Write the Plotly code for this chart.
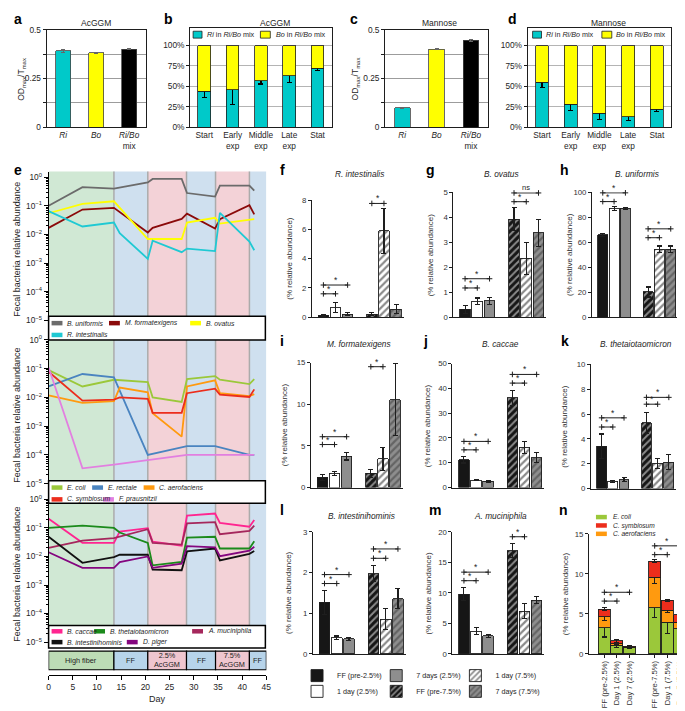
import plotly.graph_objects as go

W, H = 685, 711
FONT = 'Liberation Sans, Arial, Helvetica, sans-serif'
INK = '#1e1e1e'

# ---------------- a-d: Ri / Bo growth on AcGGM and mannose
strains = ['<i>Ri</i>', '<i>Bo</i>', '<i>Ri/Bo</i><br>mix']
strain_colors = ['#00c9c9', '#ffff00', '#000000']
acggm_od = [0.392, 0.381, 0.401]
acggm_od_err = [0.008, 0.004, 0.003]
mannose_od = [0.100, 0.401, 0.445]
mannose_od_err = [0.002, 0.004, 0.006]

phases = ['Start', 'Early<br>exp', 'Middle<br>exp', 'Late<br>exp', 'Stat']
acggm_ri = [44, 46, 57, 63, 72]
acggm_ri_err = [8, 18, 4, 8, 3]
acggm_bo = [56, 54, 43, 37, 28]
mannose_ri = [55, 28, 17, 13, 22]
mannose_ri_err = [6, 8, 8, 5, 3]
mannose_bo = [45, 72, 83, 87, 78]
pct_ticks = [0, 25, 50, 75, 100]
pct_text = ['0%', '25%', '50%', '75%', '100%']

# ---------------- e: fecal relative abundance over the feeding trial
days = [0, 7, 13.5, 14.7, 20.5, 21.5, 27.5, 28.6, 34.4, 35.4, 41.5, 42.5]
b_uniformis = [0.10, 0.45, 0.40, None, 0.66, 0.87, 0.87, 0.28, 0.21, 0.51, 0.51, 0.34]
m_formatexigens = [0.017, 0.074, 0.085, None, 0.0117, 0.017, 0.035, 0.053, 0.016, 0.034, 0.105, 0.05]
b_ovatus = [0.055, 0.117, 0.144, None, 0.0069, 0.0069, 0.0069, 0.026, 0.038, 0.024, 0.032, 0.034]
r_intestinalis = [0.065, 0.019, 0.026, 0.011, 0.0014, 0.006, 0.0024, 0.0032, 0.0026, 0.057, 0.0056, 0.0028]
e_coli = [0.089, 0.024, 0.041, None, 0.034, 0.010, 0.0069, 0.043, 0.055, 0.041, 0.029, 0.043]
e_rectale = [0.024, 0.065, 0.050, None, 0.0001, None, None, 0.0002, 0.0002, None, 0.0001, 0.0001]
c_aerofaciens = [0.0118, 0.0064, 0.0074, 0.022, 0.015, 0.0028, 0.00043, 0.024, 0.039, 0.014, 0.011, 0.013]
c_symbiosum = [0.078, 0.0077, 0.0083, 0.010, 0.0089, 0.0029, 0.0029, 0.014, 0.020, 0.0124, 0.0103, 0.019]
f_prausnitzii = [0.11, 0.000034, 0.000046, None, None, None, None, 0.0001, 0.0001, None, 0.0001, 0.0001]
b_caccae = [0.21, 0.030, 0.030, 0.075, 0.098, 0.033, 0.024, 0.27, 0.32, 0.15, 0.11, 0.19]
b_theta = [0.10, 0.12, 0.10, 0.069, 0.030, 0.0049, 0.0064, 0.046, 0.049, 0.019, 0.019, 0.034]
a_muciniphila = [0.020, 0.036, 0.044, None, 0.090, 0.030, 0.026, 0.145, 0.16, 0.06, 0.079, 0.12]
b_intestinihominis = [0.049, 0.0060, 0.0095, 0.0115, 0.0115, 0.0035, 0.0033, 0.015, 0.019, 0.0073, 0.0124, 0.0155]
d_piger = [0.014, 0.0040, 0.0040, 0.0063, 0.010, 0.0040, 0.0056, 0.023, 0.021, 0.0102, 0.016, 0.022]

diet_names = ['High fiber', 'FF', '2.5%<br>AcGGM', 'FF', '7.5%<br>AcGGM', 'FF']
diet_start = [0, 13.5, 20.5, 28.5, 34.5, 41.5]
diet_end = [13.5, 20.5, 28.5, 34.5, 41.5, 45]
day_ticks = [0, 5, 10, 15, 20, 25, 30, 35, 40, 45]
decades = [1e-5, 1e-4, 1e-3, 1e-2, 1e-1, 1]
decade_text = ['10<sup>−5</sup>', '10<sup>−4</sup>', '10<sup>−3</sup>',
               '10<sup>−2</sup>', '10<sup>−1</sup>', '10<sup>0</sup>']

# ---------------- f-m: % relative abundance per diet step
fm_groups = ['FF (pre-2.5%)', '1 day (2.5%)', '7 days (2.5%)',
             'FF (pre-7.5%)', '1 day (7.5%)', '7 days (7.5%)']
ri_pct = [0.12, 0.65, 0.22, 0.22, 5.9, 0.56]
ri_pct_err = [0.04, 0.33, 0.10, 0.08, 1.55, 0.30]
bov_pct = [0.31, 0.64, 0.66, 3.92, 2.35, 3.37]
bov_pct_err = [0.15, 0.13, 0.14, 0.46, 0.63, 0.55]
buni_pct = [65.8, 87, 87, 20.2, 54.5, 54.5]
buni_pct_err = [1.0, 1.5, 1.0, 4.0, 2.5, 2.5]
mfor_pct = [1.22, 1.69, 3.74, 1.69, 3.46, 10.55]
mfor_pct_err = [0.40, 0.28, 0.43, 0.48, 1.38, 4.35]
bcac_pct = [11.2, 3.0, 2.6, 36.1, 16.3, 12.0]
bcac_pct_err = [1.3, 0.3, 0.35, 3.2, 2.4, 2.0]
bthe_pct = [3.4, 0.58, 0.72, 5.3, 2.04, 2.12]
bthe_pct_err = [1.0, 0.08, 0.15, 0.85, 0.40, 0.60]
bint_pct = [1.27, 0.40, 0.37, 1.97, 0.85, 1.36]
bint_pct_err = [0.30, 0.04, 0.04, 0.20, 0.26, 0.24]
amuc_pct = [9.8, 3.75, 3.0, 16.9, 7.0, 8.8]
amuc_pct_err = [1.05, 0.55, 0.25, 1.15, 1.2, 0.55]

# significance brackets: (from group, to group, height, label), group index into fm_groups
brackets_f = [(0, 1, 1.6, '*'), (0, 2, 2.2, '*'), (3, 4, 7.77, '*'), (3, 5, 8.37, '*')]
brackets_g = [(0, 1, 1.17, '*'), (0, 2, 1.54, '*'), (3, 4, 4.62, '*'), (3, 5, 4.97, 'ns')]
brackets_h = [(0, 1, 92.5, '*'), (0, 2, 99.5, '*'), (3, 4, 63.6, '*'), (3, 5, 70.7, '*')]
brackets_i = [(0, 1, 5.16, '*'), (0, 2, 6.1, '*'), (3, 4, 14.5, '*'), (3, 5, 15.55, '*')]
brackets_j = [(0, 1, 15.2, '*'), (0, 2, 18.6, '*'), (3, 4, 42.1, '*'), (3, 5, 45.6, '*')]
brackets_k = [(0, 1, 4.96, '*'), (0, 2, 5.7, '*'), (3, 4, 6.8, '*'), (3, 5, 7.35, '*')]
brackets_l = [(0, 1, 1.73, '*'), (0, 2, 1.95, '*'), (3, 4, 2.35, '*'), (3, 5, 2.58, '*')]
brackets_m = [(0, 1, 12.0, '*'), (0, 2, 13.4, '*'), (3, 4, 19.2, '*'), (3, 5, 20.5, '*')]

# ---------------- n: stacked E. coli / C. aerofaciens / C. symbiosum
n_groups = ['FF (pre-2.5%)', 'Day 1 (2.5%)', 'Day 7 (2.5%)',
            'FF (pre-7.5%)', 'Day 1 (7.5%)', 'Day 7 (7.5%)']
n_ecoli = [3.27, 1.10, 0.78, 5.80, 3.96, 3.14]
n_ecoli_err = [1.15, 0.30, 0.15, 1.25, 1.40, 0.50]
n_caero = [1.38, 0.20, 0.04, 3.75, 1.51, 0.82]
n_caero_err = [0.50, 0.15, 0.05, 0.75, 0.35, 0.35]
n_csym = [0.95, 0.33, 0.16, 2.05, 1.23, 0.94]
n_csym_err = [0.15, 0.15, 0.10, 0.20, 0.10, 0.30]
brackets_n = [(0, 1, 6.6, '*'), (0, 2, 7.7, '*'), (3, 4, 12.4, '*'), (3, 5, 13.5, '*')]

# ---------------- styles
sp_color = {
    'B. uniformis': '#6b6b6b', 'M. formatexigens': '#8b0a0a', 'B. ovatus': '#ffff00',
    'R. intestinalis': '#1fc9d3', 'E. coli': '#9bc83a', 'E. rectale': '#4a84c0',
    'C. aerofaciens': '#ff9a0f', 'C. symbiosum': '#ec2d1c', 'F. prausnitzii': '#e27fe0',
    'B. caccae': '#ff2590', 'B. thetaiotaomicron': '#1b8a1b', 'A. muciniphila': '#a5275c',
    'B. intestinihominis': '#111111', 'D. piger': '#84067f',
}
diet_shade = ['#d0e8d4', '#cfe0ef', '#f3d2d7', '#cfe0ef', '#f3d2d7', '#cfe0ef']
diet_fill = ['#bddcb6', '#b7d4ea', '#efc6cf', '#b7d4ea', '#efc6cf', '#b7d4ea']
group_style = [
    dict(color='#161616'),
    dict(color='#ffffff'),
    dict(color='#8e8e8e'),
    dict(color='#161616', pattern=dict(shape='/', bgcolor='#161616', fgcolor='#ffffff', size=5, solidity=0.4)),
    dict(color='#ffffff', pattern=dict(shape='/', bgcolor='#ffffff', fgcolor='#161616', size=5, solidity=0.45)),
    dict(color='#8e8e8e', pattern=dict(shape='/', bgcolor='#8e8e8e', fgcolor='#3a3a3a', size=5, solidity=0.45)),
]
# bottom key: one legend per entry, (legend id, swatch centre x, row y)
group_legend = [('legend', 316, 672), ('legend2', 316, 688), ('legend3', 396, 672),
                ('legend4', 396, 688), ('legend5', 476, 672), ('legend6', 476, 688)]

fig = go.Figure()
lay = {}
notes = []
shapes = []


def fx(p):
    return p / W


def fy(p):
    return 1 - p / H


def make_axes(k, box, xa, ya):
    x0, y0, x1, y1 = box
    s = '' if k == 1 else str(k)
    lay['xaxis' + s] = dict(domain=[fx(x0), fx(x1)], anchor='y' + s, **xa)
    lay['yaxis' + s] = dict(domain=[fy(y1), fy(y0)], anchor='x' + s, **ya)
    return 'x' + s, 'y' + s


def label(x, y, t, size=8.3, angle=0, xanchor='center', color=INK, align='center'):
    notes.append(dict(xref='paper', yref='paper', x=fx(x), y=fy(y), text=t, showarrow=False,
                      xanchor=xanchor, yanchor='middle', textangle=angle, align=align,
                      font=dict(size=size, color=color)))


def letter(x, y, t):
    label(x, y, '<b>%s</b>' % t, size=14, xanchor='left', color='#000')


def line_key(x, y, color):
    shapes.append(dict(type='line', xref='paper', yref='paper', x0=fx(x), x1=fx(x + 11),
                       y0=fy(y), y1=fy(y), line=dict(color=color, width=4.5), layer='above'))


def box_key(x0, y0, x1, y1, color):
    shapes.append(dict(type='rect', xref='paper', yref='paper', x0=fx(x0), x1=fx(x1),
                       y0=fy(y1), y1=fy(y0), fillcolor=color, line=dict(color=INK, width=0.8),
                       layer='above'))


def frame_box(x0, y0, x1, y1):
    shapes.append(dict(type='rect', xref='paper', yref='paper', x0=fx(x0), x1=fx(x1),
                       y0=fy(y1), y1=fy(y0), fillcolor='white', line=dict(color='#000', width=1.5),
                       layer='above'))


# ---------------- a, c
def od_panel(k, box, vals, errs):
    xr, yr = make_axes(k, box,
        dict(type='category', range=[-0.5, 2.5], showline=True, mirror=True, linecolor=INK,
             linewidth=1, ticks='', tickfont=dict(size=8.3)),
        dict(range=[0, 0.5], tickvals=[0, 0.25, 0.5], showline=True, mirror=True, linecolor=INK,
             linewidth=1, ticks='outside', ticklen=3, tickcolor=INK, showgrid=True,
             gridcolor='#9c9c9c', zeroline=False, tickfont=dict(size=8.3),
             minor=dict(tickmode='array', tickvals=[0.125, 0.375], ticks='outside', ticklen=3,
                        tickcolor=INK, showgrid=True, gridcolor='#9c9c9c')))
    fig.add_bar(x=strains, y=vals, xaxis=xr, yaxis=yr, width=0.45, showlegend=False,
                marker=dict(color=strain_colors, line=dict(color='#444', width=0.8)),
                error_y=dict(type='data', array=errs, color='#666', thickness=1, width=2))


od_panel(1, (37, 16, 137, 115), acggm_od, acggm_od_err)
od_panel(3, (379, 16, 483, 115), mannose_od, mannose_od_err)


# ---------------- b, d
def mix_panel(k, box, ri, ri_err, bo):
    xr, yr = make_axes(k, box,
        dict(type='category', range=[-0.5, 4.5], showline=True, mirror=True, linecolor=INK,
             linewidth=1, ticks='', tickfont=dict(size=8.3)),
        dict(range=[0, 121.7], tickvals=pct_ticks, ticktext=pct_text, showline=True,
             mirror=True, linecolor=INK, linewidth=1, ticks='outside', ticklen=3, tickcolor=INK,
             showgrid=True, gridcolor='#b4b4b4', zeroline=False, tickfont=dict(size=8.3)))
    fig.add_bar(x=phases, y=ri, xaxis=xr, yaxis=yr, width=0.45, showlegend=False,
                marker=dict(color='#00c9c9', line=dict(color=INK, width=0.8)),
                error_y=dict(type='data', array=ri_err, color='#000', thickness=1.2, width=2.5))
    fig.add_bar(x=phases, y=bo, xaxis=xr, yaxis=yr, width=0.45, showlegend=False,
                marker=dict(color='#ffff00', line=dict(color=INK, width=0.8)))


mix_panel(2, (182, 14, 325, 115), acggm_ri, acggm_ri_err, acggm_bo)
mix_panel(4, (523, 14, 668, 115), mannose_ri, mannose_ri_err, mannose_bo)

for x0, tx in [(185, 197), (528, 540)]:
    box_key(x0, 17.5, x0 + 9, 24.5, '#00c9c9')
    label(tx, 21, '<i>Ri</i> in <i>Ri/Bo</i> mix', size=7.2, xanchor='left')
for x0, tx in [(253, 267), (598, 610)]:
    box_key(x0, 17.5, x0 + 10, 24.5, '#ffff00')
    label(tx, 21, '<i>Bo</i> in <i>Ri/Bo</i> mix', size=7.2, xanchor='left')

for x, t in [(87, 'AcGGM'), (268, 'AcGGM'), (434, 'Mannose'), (605, 'Mannose')]:
    label(x, 9.5, t, size=8.5)
label(12, 66, 'OD<sub>max</sub>/T<sub>max</sub>', size=8.5, angle=-90)
label(350, 66, 'OD<sub>max</sub>/T<sub>max</sub>', size=8.5, angle=-90)
for x, t in [(2, 'a'), (154, 'b'), (341, 'c'), (501, 'd')]:
    letter(x, 5.5, t)

# ---------------- e
minor_vals = [m * 10.0 ** p for p in range(-5, 0) for m in range(2, 10)]
e_members = [
    [('B. uniformis', b_uniformis), ('M. formatexigens', m_formatexigens),
     ('B. ovatus', b_ovatus), ('R. intestinalis', r_intestinalis)],
    [('E. coli', e_coli), ('E. rectale', e_rectale), ('C. aerofaciens', c_aerofaciens),
     ('C. symbiosum', c_symbiosum), ('F. prausnitzii', f_prausnitzii)],
    [('B. caccae', b_caccae), ('B. thetaiotaomicron', b_theta), ('A. muciniphila', a_muciniphila),
     ('B. intestinihominis', b_intestinihominis), ('D. piger', d_piger)],
]
e_boxes = [(39, 160, 259, 311), (39, 331, 259, 477), (39, 493, 259, 638)]
e_ranges = [[-5, 0.2], [-5, 0], [-5, 0]]

for k, box, rng, members in zip([5, 6, 7], e_boxes, e_ranges, e_members):
    xr, yr = make_axes(k, box,
        dict(range=[0, 45], visible=False),
        dict(type='log', range=rng, tickvals=decades, ticktext=decade_text, showline=True,
             linecolor='#000', linewidth=1, ticks='outside', ticklen=4, tickcolor='#000',
             minor=dict(tickmode='array', tickvals=minor_vals, ticks='outside', ticklen=2,
                        tickcolor='#000'),
             showgrid=False, zeroline=False, tickfont=dict(size=8.3)))
    for s0, s1, c in zip(diet_start, diet_end, diet_shade):
        shapes.append(dict(type='rect', xref=xr, yref=yr + ' domain', x0=s0, x1=s1, y0=0, y1=1,
                           fillcolor=c, line=dict(width=0), layer='below'))
    for s0 in diet_start[1:]:
        shapes.append(dict(type='line', xref=xr, yref=yr + ' domain', x0=s0, x1=s0, y0=0, y1=1,
                           line=dict(color='#ababab', width=1.5), layer='below'))
    for name, vals in members:
        fig.add_scatter(x=days, y=vals, xaxis=xr, yaxis=yr, mode='lines', connectgaps=True,
                        line=dict(color=sp_color[name], width=1.8), showlegend=False, name=name)
    label(7, (box[1] + box[3]) / 2 + 3, 'Fecal bacteria relative abundance', size=9, angle=-90)

# diet strip + day axis
dx, dy = make_axes(8, (39, 645, 259, 671),
    dict(range=[0, 45], showline=True, linecolor='#000', linewidth=1, ticks='outside', ticklen=4,
         tickcolor='#000', tickvals=day_ticks, showgrid=False, zeroline=False, tickfont=dict(size=8.5)),
    dict(range=[0, 1], visible=False))
for s0, s1, c, t in zip(diet_start, diet_end, diet_fill, diet_names):
    shapes.append(dict(type='rect', xref=dx, yref=dy, x0=s0, x1=s1, y0=0.19, y1=0.92,
                       fillcolor=c, line=dict(color='#000', width=1.2), layer='above'))
    notes.append(dict(xref=dx, yref=dy, x=(s0 + s1) / 2, y=0.555, text=t, showarrow=False,
                      font=dict(size=7.3, color=INK)))
label(149, 696, 'Day', size=9)
letter(2, 158, 'e')

# e legends
e_legend_rows = [
    [('B. uniformis', 42, 314), ('M. formatexigens', 100, 314), ('B. ovatus', 182, 314),
     ('R. intestinalis', 42, 326)],
    [('E. coli', 42, 481), ('E. rectale', 83, 481), ('C. aerofaciens', 135, 481),
     ('C. symbiosum', 42, 493), ('F. prausnitzii', 94, 493)],
    [('B. caccae', 42, 627), ('B. thetaiotaomicron', 85, 627), ('A. muciniphila', 184, 627),
     ('B. intestinihominis', 42, 638), ('D. piger', 118, 638)],
]
for (y0, y1), rows in zip([(307, 331), (474, 497), (621, 644)], e_legend_rows):
    frame_box(39, y0, 258, y1)
    for name, x, y in rows:
        line_key(x, y, sp_color[name])
        label(x + 14, y, '<i>%s</i>' % name, size=6.8, xanchor='left')

# ---------------- f-m
fm_axis = fm_groups[:3] + ['gap'] + fm_groups[3:]
fm_specs = [
    ('f', (305, 189, 398, 308), 'R. intestinalis', ri_pct, ri_pct_err, 8, 2, brackets_f, 283, 163),
    ('g', (448, 181, 542, 308), 'B. ovatus', bov_pct, bov_pct_err, 5, 1, brackets_g, 425, 163),
    ('h', (588, 181, 675, 308), 'B. uniformis', buni_pct, buni_pct_err, 100, 20, brackets_h, 565, 163),
    ('i', (304, 354, 397, 481), 'M. formatexigens', mfor_pct, mfor_pct_err, 15, 5, brackets_i, 277, 335),
    ('j', (447, 355, 540, 481), 'B. caccae', bcac_pct, bcac_pct_err, 50, 10, brackets_j, 422, 335),
    ('k', (587, 356, 673, 482), 'B. thetaiotaomicron', bthe_pct, bthe_pct_err, 10, 2, brackets_k, 560, 335),
    ('l', (306, 526, 400, 650), 'B. intestinihominis', bint_pct, bint_pct_err, 3, 1, brackets_l, 282, 510),
    ('m', (447, 526, 540, 650), 'A. muciniphila', amuc_pct, amuc_pct_err, 20, 5, brackets_m, 423, 510),
]
letter_pos = {'f': (271, 158), 'g': (418, 158), 'h': (554, 158), 'i': (271, 332.5),
              'j': (415, 332.5), 'k': (555, 332.5), 'l': (271, 503.5), 'm': (421, 503.5),
              'n': (553, 503.5)}


def add_brackets(xr, yr, axis_cats, brackets):
    real = [c for c in axis_cats if c != 'gap']
    for i, j, h, t in brackets:
        fig.add_scatter(x=[real[i], real[j]], y=[h, h], xaxis=xr, yaxis=yr, mode='lines+markers',
                        cliponaxis=False, showlegend=False, hoverinfo='skip',
                        line=dict(color=INK, width=1),
                        marker=dict(symbol='cross-thin', size=4, line=dict(color=INK, width=1)))
        xi, xj = axis_cats.index(real[i]), axis_cats.index(real[j])
        notes.append(dict(xref=xr, yref=yr, x=(xi + xj) / 2, y=h, yshift=5, text=t,
                          showarrow=False, font=dict(size=7.5 if t == 'ns' else 8.5, color=INK)))


for k, (lt, box, title, vals, errs, top, step, brk, ylab_x, title_y) in enumerate(fm_specs, start=9):
    xr, yr = make_axes(k, box,
        dict(type='category', categoryorder='array', categoryarray=fm_axis, range=[-0.95, 6.65],
             showline=True, linecolor=INK, linewidth=1, ticks='', showticklabels=False,
             showgrid=False, zeroline=False),
        dict(range=[0, top], tickvals=list(range(0, top + 1, step)), showline=True, linecolor=INK,
             linewidth=1, ticks='outside', ticklen=3, tickcolor=INK, showgrid=False,
             zeroline=False, tickfont=dict(size=7.8, color='#333')))
    for gi, (g, v, e) in enumerate(zip(fm_groups, vals, errs)):
        fig.add_bar(x=[g], y=[v], xaxis=xr, yaxis=yr, width=0.88, name=g,
                    showlegend=(lt == 'f'), legend=group_legend[gi][0],
                    marker=dict(line=dict(color=INK, width=0.9), **group_style[gi]),
                    error_y=dict(type='data', array=[e], color=INK, thickness=1.1, width=2.5))
    add_brackets(xr, yr, fm_axis, brk)
    label((box[0] + box[2]) / 2 + 2, title_y, '<i>%s</i>' % title, size=8.3)
    label(ylab_x, (box[1] + box[3]) / 2, '(% relative abundance)', size=8, angle=-90, color='#333')
    letter(*letter_pos[lt], lt)

# ---------------- n
n_axis = n_groups[:3] + ['gap'] + n_groups[3:]
nx, ny = make_axes(17, (585, 528, 685, 650),
    dict(type='category', categoryorder='array', categoryarray=n_axis, range=[-1.22, 6.65],
         tickmode='array', tickvals=n_groups, showline=True, linecolor=INK, linewidth=1,
         ticks='outside', ticklen=3, tickcolor=INK, tickangle=-90, showgrid=False,
         tickfont=dict(size=7.6, color='#333')),
    dict(range=[0, 15], tickvals=[0, 5, 10, 15], showline=True, linecolor=INK, linewidth=1,
         ticks='outside', ticklen=3, tickcolor=INK, showgrid=False, zeroline=False,
         tickfont=dict(size=7.8, color='#333')))
for name, vals, errs in [('E. coli', n_ecoli, n_ecoli_err), ('C. aerofaciens', n_caero, n_caero_err),
                         ('C. symbiosum', n_csym, n_csym_err)]:
    fig.add_bar(x=n_groups, y=vals, xaxis=nx, yaxis=ny, width=0.96, showlegend=False, name=name,
                marker=dict(color=sp_color[name], line=dict(color=INK, width=0.9)),
                error_y=dict(type='data', array=errs, color=INK, thickness=1.1, width=2.5))
add_brackets(nx, ny, n_axis, brackets_n)
label(562, 589, '(% relative abundance)', size=8, angle=-90, color='#333')
letter(*letter_pos['n'], 'n')
n_legend = ['E. coli', 'C. symbiosum', 'C. aerofaciens']
for name, y in zip(n_legend, [511, 519.5, 528]):
    line_key(592, y, sp_color[name])
label(607, 519.5, '<br>'.join('<i>%s</i>' % s for s in n_legend), size=6.6, xanchor='left',
      align='left')

# bottom key, one entry per legend
for key, cx, cy in group_legend:
    lay[key] = dict(orientation='h', x=fx(cx - 26), y=fy(cy), xanchor='left', yanchor='middle',
                    itemwidth=30, font=dict(size=7.2, color=INK), bgcolor='rgba(0,0,0,0)',
                    borderwidth=0)

fig.update_layout(**lay)
fig.update_layout(width=W, height=H, margin=dict(l=0, r=0, t=0, b=0), autosize=False,
                  barmode='stack', showlegend=True, paper_bgcolor='white', plot_bgcolor='white',
                  font=dict(family=FONT, size=8.3, color=INK),
                  annotations=notes, shapes=shapes)
fig.write_html('out.html')
